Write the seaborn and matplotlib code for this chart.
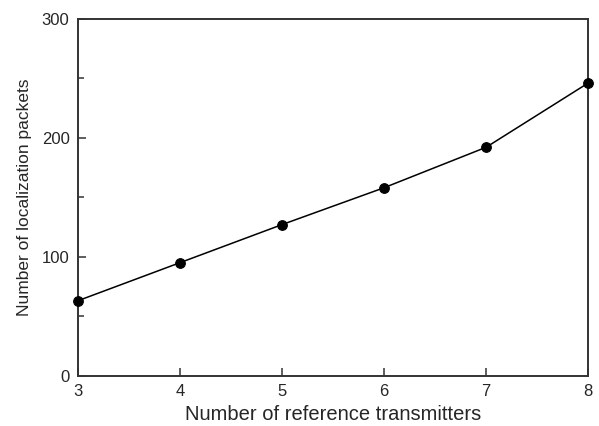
import matplotlib
matplotlib.use("Agg")
import matplotlib.pyplot as plt
from matplotlib.ticker import MultipleLocator
import pandas as pd
import seaborn as sns

# data
transmitters = [3, 4, 5, 6, 7, 8]
packets = [63, 95, 127, 158, 192, 246]

df = pd.DataFrame({"transmitters": transmitters, "packets": packets})

sns.set_style("white", {"xtick.bottom": True, "ytick.left": True})
plt.rcParams["font.family"] = ["Liberation Sans", "DejaVu Sans"]

fig = plt.figure(figsize=(5.99, 4.26), dpi=100)
ax = fig.add_axes([0.130, 0.118, 0.852, 0.838])

sns.lineplot(data=df, x="transmitters", y="packets", ax=ax,
             color="black", linewidth=1.1, marker="o", markersize=7,
             markeredgecolor="black", clip_on=False, zorder=3)

ax.set_xlim(3, 8)
ax.set_ylim(0, 300)
ax.xaxis.set_major_locator(MultipleLocator(1))
ax.yaxis.set_major_locator(MultipleLocator(100))
ax.yaxis.set_minor_locator(MultipleLocator(50))

ax.tick_params(axis="both", which="major", direction="in", length=6,
               width=1.1, color="#333333", labelsize=12, pad=6,
               bottom=True, left=True)
ax.tick_params(axis="y", which="minor", direction="in", length=4,
               width=1.1, color="#333333", left=True)

for s in ax.spines.values():
    s.set_color("#333333")
    s.set_linewidth(1.4)

ax.set_xlabel("Number of reference transmitters", fontsize=14.5, labelpad=4)
ax.set_ylabel("Number of localization packets", fontsize=12.5, labelpad=7)

fig.savefig("out.png", dpi=100)
